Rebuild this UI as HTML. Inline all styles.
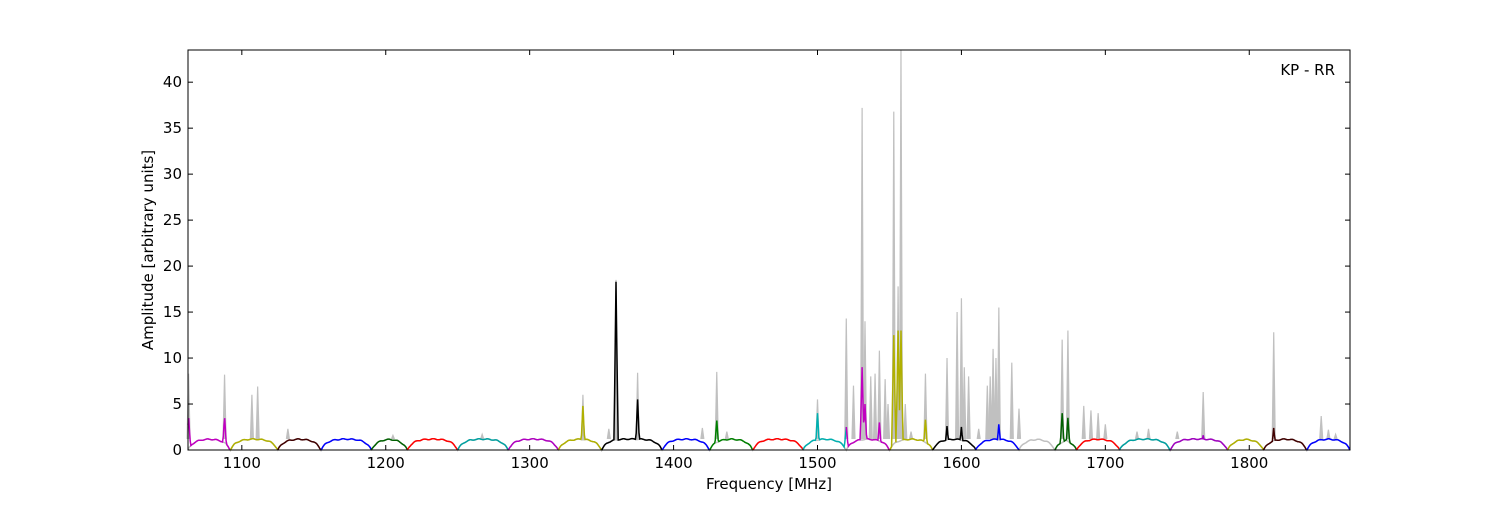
<!DOCTYPE html>
<html><head><meta charset="utf-8"><style>
body{margin:0;background:#fff;}
svg text{font-family:"DejaVu Sans","Liberation Sans",sans-serif;font-size:15px;fill:#000;}
</style></head><body>
<svg id="s" width="1500" height="500" xmlns="http://www.w3.org/2000/svg">
<rect x="0" y="0" width="1500" height="500" fill="#fff"/>
<g id="plot"></g>
<rect x="188" y="50" width="1162" height="400" fill="none" stroke="#000" stroke-width="1"/>
<g id="ticks"></g>
<text x="1335" y="75" text-anchor="end">KP - RR</text>
<text x="769" y="489" text-anchor="middle">Frequency [MHz]</text>
<text transform="translate(153,250) rotate(-90)" text-anchor="middle">Amplitude [arbitrary units]</text>
</svg>
<script>
var X0=1062.6,X1=1870,Y0=0,Y1=43.5;
function px(f){return 188+(f-X0)/(X1-X0)*1162;}
function py(v){return 450-v/Y1*400;}
var ns="http://www.w3.org/2000/svg";
var plot=document.getElementById('plot'),ticks=document.getElementById('ticks');
function el(t,a,p){var e=document.createElementNS(ns,t);for(var k in a)e.setAttribute(k,a[k]);(p||plot).appendChild(e);return e;}
for(var f=1100;f<=1800;f+=100){var x=px(f);el('line',{x1:x,y1:450,x2:x,y2:445,stroke:'#000'},ticks);el('line',{x1:x,y1:50,x2:x,y2:55,stroke:'#000'},ticks);var t=el('text',{x:x,y:468,'text-anchor':'middle'},ticks);t.textContent=f;}
for(var v=0;v<=40;v+=5){var y=py(v);el('line',{x1:188,y1:y,x2:193,y2:y,stroke:'#000'},ticks);el('line',{x1:1350,y1:y,x2:1345,y2:y,stroke:'#000'},ticks);var t=el('text',{x:182,y:y+5,'text-anchor':'end'},ticks);t.textContent=v;}
var bands=[[1062.6,1092,'#c000c0'],[1092,1125,'#b0b000'],[1125,1155,'#400000'],[1155,1190,'#0000ff'],[1190,1215,'#006000'],[1215,1250,'#ff0000'],[1250,1285,'#00a0a0'],[1285,1320,'#b000c0'],[1320,1350,'#b0b000'],[1350,1392,'#000000'],[1392,1425,'#0000ff'],[1425,1455,'#008000'],[1455,1490,'#ff0000'],[1490,1520,'#00b0b0'],[1520,1550,'#c000c0'],[1550,1580,'#b0b000'],[1580,1610,'#000000'],[1610,1640,'#0000ff'],[1640,1665,'#c0c0c0'],[1665,1680,'#006000'],[1680,1710,'#ff0000'],[1710,1745,'#00a0a0'],[1745,1785,'#a000c0'],[1785,1810,'#b0b000'],[1810,1840,'#400000'],[1840,1870,'#0000ff']];
var spikes=[[1063,8.3],[1088,8.2],[1107,6],[1111,6.9],[1132,2.3],[1205,1.6],[1267,1.7],[1337,6],[1355,2.3],[1360,18.5],[1375,8.4],[1420,2.4],[1430,8.5],[1437,2],[1500,5.5],[1520,14.3],[1525,7],[1531,37.2],[1533,14],[1537,8],[1540,8.3],[1543,10.8],[1547,7.7],[1549,5],[1553,36.8],[1556,17.8],[1558,43.5],[1561,5],[1565,2],[1575,8.3],[1590,10],[1597,15],[1600,16.5],[1602,9],[1605,8],[1612,2.3],[1618,7],[1620,8],[1622,11],[1624,10],[1626,15.5],[1635,9.5],[1640,4.5],[1670,12],[1674,13],[1685,4.8],[1690,4.3],[1695,4],[1700,2.8],[1722,2],[1730,2.3],[1750,2],[1768,6.3],[1817,12.8],[1850,3.7],[1855,2.2],[1860,1.7]];
function base(f,b){var a=b[0],c=b[1],w=c-a,u=(f-a)/w;var e=Math.min(u,1-u)*w;var s=1-Math.exp(-e/4);return 1.2*s+0.05*Math.sin(f);}
var d='';for(var i=0;i<bands.length;i++){var b=bands[i];for(var f=b[0];f<=b[1];f+=0.5){d+=(d?'L':'M')+px(f).toFixed(1)+','+py(base(f,b)).toFixed(1);}}
el('path',{d:d,fill:'none',stroke:'#c0c0c0','stroke-width':1.5});
spikes.forEach(function(s){el('path',{d:'M'+(px(s[0])-1.5)+','+py(1.2)+'L'+px(s[0])+','+py(s[1])+'L'+(px(s[0])+1.5)+','+py(1.2),fill:'#c0c0c0',stroke:'#c0c0c0','stroke-width':1.2});});
var cspk={1063:3.7,1088:3.7,1337:4.8,1360:18.3,1375:5.5,1430:3.2,1500:4,1520:2.5,1531:9,1533:5,1543:3,1553:12.5,1556:13,1558:13,1575:3.3,1590:2.6,1600:2.5,1626:2.8,1670:4,1674:3.5,1768:1.6,1817:2.4};
for(var i=0;i<bands.length;i++){var b=bands[i];if(b[2]=='#c0c0c0')continue;var d='';for(var f=b[0];f<=b[1];f+=0.5){var v=base(f,b);for(var k in cspk){var dd=Math.abs(f-k);if(dd<1.5)v=Math.max(v,cspk[k]*(1-dd/1.5));}d+=(d?'L':'M')+px(f).toFixed(1)+','+py(v).toFixed(1);}el('path',{d:d,fill:'none',stroke:b[2],'stroke-width':1.5});}
</script>
</body></html>
